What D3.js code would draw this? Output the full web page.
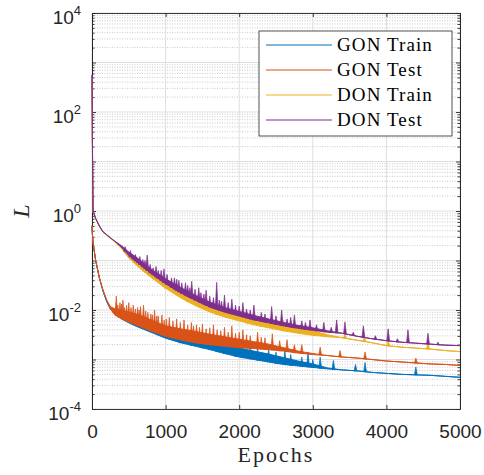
<!DOCTYPE html>
<html>
<head>
<meta charset="utf-8">
<script src="https://cdn.jsdelivr.net/npm/d3@7/dist/d3.min.js"></script>
<style>
  body { margin: 0; background: #fff; }
</style>
</head>
<body>
<div id="chart"></div>
<script>
// ---------------------------------------------- Data (log10 of loss) ----------------------------------------------
const epochs = [0, 5, 15, 50, 100, 150, 200, 250, 300, 400, 500, 600, 700, 800, 1000, 1200, 1400, 1600, 1800,
    2000, 2200, 2400, 2600, 2800, 3000, 3200, 3400, 3600, 3800, 4000, 4200, 4400, 4600, 4800, 5000];

// each series is a noisy band: upper and lower edge of the band
const gonTrainHi = [-0.3, -0.45, -0.65, -1.0, -1.35, -1.62, -1.83, -1.98, -2.04, -2.12, -2.19, -2.25, -2.31, -2.37, -2.47, -2.55, -2.61, -2.66, -2.71,
    -2.77, -2.83, -2.89, -2.96, -3.03, -3.09, -3.17, -3.21, -3.23, -3.26, -3.28, -3.3, -3.31, -3.32, -3.34, -3.36];
const gonTrainLo = [-0.3, -0.45, -0.65, -1.0, -1.35, -1.62, -1.83, -1.98, -2.07, -2.18, -2.26, -2.33, -2.39, -2.45, -2.57, -2.66, -2.73, -2.8, -2.88,
    -2.95, -3.0, -3.05, -3.1, -3.13, -3.16, -3.19, -3.21, -3.23, -3.26, -3.28, -3.3, -3.31, -3.32, -3.34, -3.36];

const gonTestHi = [-0.3, -0.45, -0.65, -1.0, -1.35, -1.6, -1.8, -1.93, -1.97, -2.0, -2.04, -2.08, -2.13, -2.2, -2.32, -2.38, -2.43, -2.49, -2.54,
    -2.59, -2.64, -2.69, -2.76, -2.83, -2.88, -2.92, -2.95, -2.97, -3.0, -3.03, -3.05, -3.07, -3.09, -3.1, -3.12];
const gonTestLo = [-0.3, -0.45, -0.65, -1.0, -1.35, -1.6, -1.8, -1.98, -2.08, -2.17, -2.24, -2.3, -2.36, -2.42, -2.53, -2.6, -2.66, -2.7, -2.73,
    -2.76, -2.78, -2.8, -2.83, -2.87, -2.9, -2.92, -2.95, -2.97, -3.0, -3.03, -3.05, -3.07, -3.09, -3.1, -3.12];

const donTrainHi = [2.7, 1.4, -0.02, -0.16, -0.31, -0.43, -0.49, -0.55, -0.61, -0.74, -0.9, -1.02, -1.14, -1.26, -1.46, -1.64, -1.79, -1.93, -2.03,
    -2.11, -2.19, -2.25, -2.31, -2.37, -2.42, -2.5, -2.56, -2.61, -2.66, -2.72, -2.75, -2.77, -2.79, -2.82, -2.84];
const donTrainLo = [2.7, 1.4, -0.02, -0.16, -0.31, -0.43, -0.49, -0.55, -0.61, -0.76, -0.95, -1.09, -1.22, -1.34, -1.56, -1.75, -1.91, -2.04, -2.14,
    -2.22, -2.3, -2.36, -2.42, -2.47, -2.51, -2.54, -2.56, -2.61, -2.66, -2.72, -2.75, -2.77, -2.79, -2.82, -2.84];

const donTestHi = [2.75, 1.5, 0.0, -0.15, -0.3, -0.42, -0.48, -0.54, -0.6, -0.7, -0.83, -0.93, -1.05, -1.17, -1.37, -1.54, -1.7, -1.84, -1.95,
    -2.03, -2.11, -2.18, -2.25, -2.31, -2.36, -2.42, -2.47, -2.53, -2.58, -2.62, -2.65, -2.67, -2.69, -2.71, -2.72];
const donTestLo = [2.75, 1.5, 0.0, -0.15, -0.3, -0.42, -0.48, -0.54, -0.6, -0.73, -0.9, -1.02, -1.14, -1.26, -1.47, -1.65, -1.8, -1.94, -2.04,
    -2.12, -2.2, -2.26, -2.32, -2.37, -2.41, -2.45, -2.47, -2.53, -2.58, -2.62, -2.65, -2.67, -2.69, -2.71, -2.72];

// spikes: [epoch, log10 of peak]
const gonTrainSpikes = [[1200, -2.5], [1350, -2.55], [1500, -2.6], [1600, -2.6], [1700, -2.65], [1800, -2.65], [1950, -2.7],
    [2050, -2.72], [2150, -2.72], [2250, -2.78], [2400, -2.78], [2500, -2.85], [2620, -2.8], [2700, -2.9], [2850, -2.95],
    [2935, -2.85], [3000, -3.0], [3100, -2.95], [3280, -3.02], [3580, -3.1], [3710, -3.06], [4400, -3.15]];
const gonTestSpikes = [[330, -1.72], [350, -1.9], [380, -1.85], [400, -1.88], [420, -1.8], [440, -1.95], [470, -1.9], [500, -1.85],
    [530, -1.95], [560, -1.9], [590, -1.98], [620, -1.95], [640, -2.0], [660, -1.93], [700, -1.9], [730, -2.02], [760, -2.05],
    [800, -2.08], [820, -2.1], [850, -2.0], [880, -2.12], [900, -2.12], [950, -2.1], [980, -2.2], [1010, -2.18], [1050, -2.15],
    [1100, -2.22], [1150, -2.18], [1200, -2.25], [1250, -2.2], [1300, -2.3], [1350, -2.25], [1380, -2.32], [1420, -2.3],
    [1460, -2.35], [1500, -2.28], [1550, -2.38], [1600, -2.36], [1650, -2.3], [1700, -2.4], [1750, -2.42], [1800, -2.35],
    [1850, -2.45], [1900, -2.32], [1950, -2.47], [2000, -2.45], [2050, -2.4], [2100, -2.5], [2150, -2.52], [2250, -2.45],
    [2300, -2.55], [2350, -2.56], [2450, -2.48], [2550, -2.62], [2650, -2.6], [2750, -2.7], [2850, -2.7], [3100, -2.75],
    [3370, -2.82], [3710, -2.85], [4400, -2.97]];
const donTrainSpikes = [[1000, -1.4], [1300, -1.6], [1700, -1.9], [2100, -2.05], [2300, -2.15], [2600, -2.2], [3000, -2.38],
    [3437, -2.45], [3700, -2.52], [4024, -2.6], [4565, -2.62]];
const donTestSpikes = [[450, -0.72], [520, -0.8], [560, -0.9], [590, -0.88], [620, -1.0], [650, -0.92], [690, -0.98], [720, -1.0],
    [750, -0.89], [790, -1.08], [830, -1.15], [870, -1.12], [900, -1.2], [940, -1.2], [978, -1.17], [1020, -1.28], [1080, -1.35],
    [1120, -1.35], [1150, -1.38], [1180, -1.4], [1220, -1.45], [1270, -1.45], [1300, -1.5], [1330, -1.55], [1355, -1.42],
    [1400, -1.58], [1450, -1.55], [1480, -1.65], [1520, -1.68], [1550, -1.6], [1600, -1.72], [1650, -1.75], [1694, -1.44],
    [1730, -1.8], [1760, -1.82], [1800, -1.7], [1850, -1.85], [1900, -1.78], [1950, -1.9], [2000, -1.92], [2050, -1.85],
    [2100, -1.98], [2150, -2.0], [2200, -1.9], [2300, -2.05], [2350, -2.08], [2441, -1.93], [2500, -2.12], [2577, -2.0],
    [2650, -2.18], [2700, -2.15], [2750, -2.1], [2850, -2.22], [2900, -2.25], [2962, -2.2], [3050, -2.3], [3150, -2.25],
    [3250, -2.35], [3324, -2.2], [3437, -2.24], [3550, -2.45], [3687, -2.32], [3850, -2.52], [4024, -2.38], [4150, -2.58],
    [4293, -2.4], [4565, -2.47], [4700, -2.65]];

const seriesNames = ["GON Train", "GON Test", "DON Train", "DON Test"];
const seriesColors = ["#0072BD", "#D95319", "#EDB120", "#7E2F8E"];

const xTicks = [0, 1000, 2000, 3000, 4000, 5000];
const yDecades = [-4, -2, 0, 2, 4]; // labelled exponents

// ---------------------------------------------- Layout ----------------------------------------------
const W = 484, H = 475;
const pLeft = 92, pRight = 460, pTop = 13, pBottom = 409;
const axisColor = "#262626";

const svg = d3.select("#chart").append("svg")
    .attr("width", W).attr("height", H)
    .style("font-family", "'Liberation Sans', Arial, sans-serif");

const x = d3.scaleLinear().domain([0, 5000]).range([pLeft, pRight]);
const y = d3.scaleLog().domain([1e-4, 1e4]).range([pBottom, pTop]);

// ---------------------------------------------- Grid ----------------------------------------------
const grid = svg.append("g");
const minorVals = [];
for (let p = -4; p < 4; p++) for (let k = 2; k <= 9; k++) minorVals.push(k * Math.pow(10, p));
const majorVals = d3.range(-4, 5).map(p => Math.pow(10, p));

grid.selectAll(".minor").data(minorVals).enter().append("line")
    .attr("x1", pLeft).attr("x2", pRight)
    .attr("y1", d => y(d)).attr("y2", d => y(d))
    .attr("stroke", "#bdbdbd").attr("stroke-width", 0.8)
    .attr("stroke-dasharray", "1,1.5");
grid.selectAll(".major").data(majorVals).enter().append("line")
    .attr("x1", pLeft).attr("x2", pRight)
    .attr("y1", d => y(d)).attr("y2", d => y(d))
    .attr("stroke", "#dedede").attr("stroke-width", 1);
grid.selectAll(".xgrid").data(xTicks).enter().append("line")
    .attr("x1", d => x(d)).attr("x2", d => x(d))
    .attr("y1", pTop).attr("y2", pBottom)
    .attr("stroke", "#dedede").attr("stroke-width", 1);

// ---------------------------------------------- Axes (box with inward ticks) ----------------------------------------------
function styleAxis(g) {
    g.selectAll("path.domain").attr("stroke", axisColor).attr("stroke-width", 0.9);
    g.selectAll(".tick line").attr("stroke", axisColor).attr("stroke-width", 0.9);
    g.selectAll("text").attr("fill", axisColor);
}

svg.append("g").attr("transform", `translate(0,${pBottom})`)
    .call(d3.axisBottom(x).tickValues(xTicks).tickSizeInner(-4).tickSizeOuter(0).tickPadding(16).tickFormat(d3.format("d")))
    .call(g => g.selectAll("text").style("font-size", "19px"))
    .call(styleAxis);
svg.append("g").attr("transform", `translate(0,${pTop})`)
    .call(d3.axisTop(x).tickValues(xTicks).tickSizeInner(-4).tickSizeOuter(0).tickFormat(""))
    .call(styleAxis);
svg.append("g").attr("transform", `translate(${pLeft},0)`)
    .call(d3.axisLeft(y).tickValues(majorVals).tickSizeInner(-4).tickSizeOuter(0).tickFormat(""))
    .call(styleAxis);
svg.append("g").attr("transform", `translate(${pLeft},0)`)
    .call(d3.axisLeft(y).tickValues(minorVals).tickSizeInner(-2.5).tickSizeOuter(0).tickFormat(""))
    .call(styleAxis);
svg.append("g").attr("transform", `translate(${pRight},0)`)
    .call(d3.axisRight(y).tickValues(majorVals).tickSizeInner(-4).tickSizeOuter(0).tickFormat(""))
    .call(styleAxis);
svg.append("g").attr("transform", `translate(${pRight},0)`)
    .call(d3.axisRight(y).tickValues(minorVals).tickSizeInner(-2.5).tickSizeOuter(0).tickFormat(""))
    .call(styleAxis);

// y tick labels 10^n
yDecades.forEach(p => {
    const t = svg.append("text")
        .attr("x", 81).attr("y", y(Math.pow(10, p)) + 11)
        .attr("text-anchor", "end")
        .attr("fill", axisColor)
        .style("font-size", "19px");
    t.append("tspan").text("10");
    t.append("tspan").attr("dy", -9).style("font-size", "13px").text(p);
});

// axis labels
svg.append("text")
    .attr("x", (pLeft + pRight) / 2).attr("y", 462)
    .attr("text-anchor", "middle")
    .style("font-family", "'Liberation Serif', 'Times New Roman', serif")
    .style("font-size", "22px").style("letter-spacing", "2px")
    .attr("fill", axisColor)
    .text("Epochs");
svg.append("text")
    .attr("transform", `translate(29,${(pTop + pBottom) / 2}) rotate(-90)`)
    .attr("text-anchor", "middle")
    .style("font-family", "'Liberation Serif', 'Times New Roman', serif")
    .style("font-style", "italic")
    .style("font-size", "24px")
    .attr("fill", axisColor)
    .text("L");

// ---------------------------------------------- Curves ----------------------------------------------
svg.append("clipPath").attr("id", "plotClip")
    .append("rect").attr("x", pLeft - 1).attr("y", pTop).attr("width", pRight - pLeft + 1).attr("height", pBottom - pTop);

const plot = svg.append("g").attr("clip-path", "url(#plotClip)");

const bands = [
    [gonTrainHi, gonTrainLo, gonTrainSpikes],
    [gonTestHi, gonTestLo, gonTestSpikes],
    [donTrainHi, donTrainLo, donTrainSpikes],
    [donTestHi, donTestLo, donTestSpikes]
];

const area = d3.area().x(d => x(d.e)).y0(d => y(d.lo)).y1(d => y(d.hi));
const lineHi = d3.line().x(d => x(d.e)).y(d => y(d.hi));
const lineLo = d3.line().x(d => x(d.e)).y(d => y(d.lo));

bands.forEach(([hi, lo, spikes], s) => {
    const rows = epochs.map((e, i) => ({ e: e, hi: Math.pow(10, hi[i]), lo: Math.pow(10, lo[i]) }));
    const color = seriesColors[s];
    const g = plot.append("g");

    g.append("path").datum(rows).attr("d", area).attr("fill", color).attr("stroke", "none");
    g.append("path").datum(rows).attr("d", lineHi).attr("fill", "none").attr("stroke", color).attr("stroke-width", 1);
    g.append("path").datum(rows).attr("d", lineLo).attr("fill", "none").attr("stroke", color).attr("stroke-width", 1);

    // spikes rise from the lower edge of the band as narrow peaks
    const loAt = e => {
        const i = Math.min(d3.bisectRight(epochs, e), epochs.length - 1);
        const t = (e - epochs[i - 1]) / (epochs[i] - epochs[i - 1]);
        return Math.pow(10, lo[i - 1] + t * (lo[i] - lo[i - 1]));
    };
    g.selectAll(".spike").data(spikes).enter().append("path")
        .attr("d", d => {
            const sx = x(d[0]), base = y(loAt(d[0])), peak = y(Math.pow(10, d[1]));
            return `M${sx - 1.4},${base}L${sx},${peak}L${sx + 1.4},${base}Z`;
        })
        .attr("fill", color).attr("stroke", color).attr("stroke-width", 0.7)
        .attr("stroke-linejoin", "round");
});

// ---------------------------------------------- Legend ----------------------------------------------
const legend = svg.append("g");
legend.append("rect")
    .attr("x", 259).attr("y", 31).attr("width", 193).attr("height", 105)
    .attr("fill", "#fff").attr("stroke", axisColor).attr("stroke-width", 0.8);

seriesNames.forEach((name, i) => {
    const cy = 45 + i * 25;
    legend.append("line")
        .attr("x1", 266).attr("x2", 332).attr("y1", cy).attr("y2", cy)
        .attr("stroke", seriesColors[i]).attr("stroke-width", 1.2);
    legend.append("text")
        .attr("x", 337).attr("y", cy + 6)
        .style("font-family", "'Liberation Serif', 'Times New Roman', serif")
        .style("font-size", "19px").style("letter-spacing", "1.1px")
        .attr("fill", "#000")
        .text(name);
});
</script>
</body>
</html>
